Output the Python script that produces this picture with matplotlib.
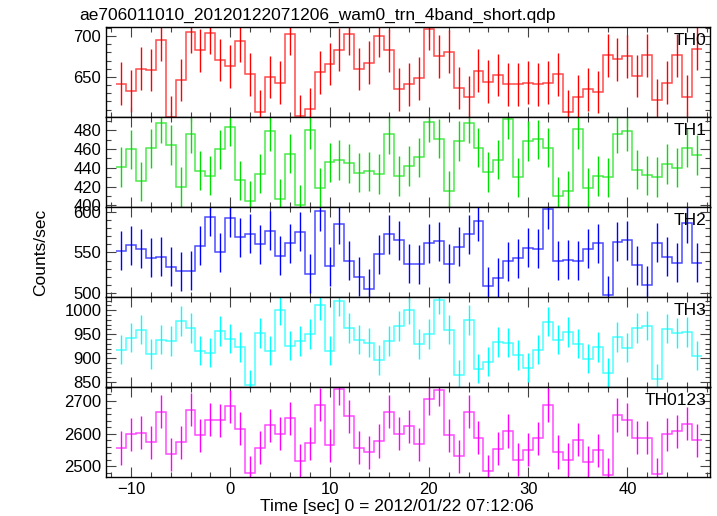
import numpy as np
import matplotlib
matplotlib.use('Agg')
import matplotlib.pyplot as plt
from matplotlib.ticker import MultipleLocator

plt.rcParams['font.family'] = ['Liberation Sans', 'DejaVu Sans']

# time bins (sec), 1 s wide
time = np.arange(-11, 48)

th0 = [641.7, 632.5, 660.0, 658.3, 695.0, 601.0, 646.0, 705.0, 682.5, 704.0,
       670.8, 662.9, 694.0, 653.0, 607.5, 650.0, 643.0, 702.5, 602.0, 611.0,
       655.4, 665.8, 683.3, 703.0, 659.6, 667.5, 700.0, 682.5, 634.6, 640.8,
       648.3, 708.3, 675.0, 680.8, 636.7, 625.4, 657.5, 644.2, 652.5, 640.8,
       640.8, 642.9, 640.8, 643.0, 653.0, 607.5, 626.0, 634.6, 631.3, 676.3,
       671.3, 675.0, 651.3, 676.3, 622.0, 643.0, 676.3, 626.0, 684.6]
th1 = [440.9, 459.4, 425.6, 460.5, 487.1, 464.0, 419.6, 476.4, 437.0, 431.7,
       459.4, 483.6, 426.4, 404.7, 433.8, 479.3, 407.2, 455.1, 400.8, 480.4,
       418.9, 445.6, 448.0, 444.5, 434.9, 436.0, 433.1, 475.4, 431.0, 441.6,
       450.9, 488.9, 471.1, 415.7, 468.6, 487.1, 461.5, 435.2, 448.7, 491.4,
       429.6, 468.6, 470.1, 461.5, 409.6, 415.7, 480.7, 418.9, 431.0, 429.6,
       476.4, 479.3, 438.1, 432.0, 430.3, 443.8, 440.2, 461.5, 453.3]
th2 = [551.9, 558.9, 554.8, 543.7, 544.5, 532.1, 526.8, 527.6, 558.0, 593.8,
       549.9, 593.0, 568.4, 573.3, 560.1, 576.5, 545.7, 561.0, 575.7, 523.9,
       600.9, 533.0, 584.8, 539.5, 519.8, 505.4, 547.8, 572.5, 565.1, 536.3,
       535.5, 561.0, 563.5, 536.3, 556.8, 572.5, 588.5, 508.3, 519.0, 538.8,
       542.5, 556.0, 554.8, 603.0, 539.5, 541.1, 539.5, 554.4, 561.0, 497.2,
       563.1, 565.1, 534.2, 509.5, 561.8, 544.5, 537.0, 585.7, 537.0]
th3 = [917.8, 942.9, 959.6, 908.0, 938.7, 935.8, 977.7, 963.0, 915.6, 911.5,
       956.7, 940.8, 923.3, 843.1, 952.6, 915.6, 1000.0, 926.2, 935.8, 949.8,
       1011.2, 915.6, 1019.5, 963.0, 938.7, 932.4, 895.4, 935.1, 966.5, 1001.4,
       928.9, 949.8, 1022.3, 959.6, 865.4, 979.1, 878.0, 892.7, 933.7, 932.4,
       905.9, 880.1, 917.8, 976.3, 938.7, 954.0, 930.3, 898.9, 923.3, 868.8,
       944.2, 921.9, 963.0, 968.0, 857.1, 961.6, 952.6, 954.6, 905.2]
th0123 = [2556.1, 2598.0, 2603.1, 2573.5, 2667.3, 2536.7, 2573.5, 2673.5, 2594.9, 2642.9,
          2640.8, 2683.7, 2615.3, 2479.6, 2557.1, 2625.5, 2600.0, 2646.9, 2517.3, 2570.4,
          2688.8, 2564.3, 2737.8, 2653.1, 2557.1, 2542.9, 2577.6, 2667.3, 2600.0, 2622.4,
          2567.3, 2707.1, 2734.7, 2594.9, 2530.6, 2667.3, 2587.8, 2484.7, 2554.1, 2608.2,
          2520.4, 2551.0, 2585.7, 2687.8, 2543.9, 2520.4, 2581.6, 2512.2, 2549.0, 2474.5,
          2657.1, 2642.9, 2587.8, 2587.8, 2475.5, 2598.0, 2607.1, 2630.6, 2579.6]

# 1-sigma error per band
errors = [26, 21, 24, 31, 51]
labels = ['TH0', 'TH1', 'TH2', 'TH3', 'TH0123']
series = [th0, th1, th2, th3, th0123]
colors = ['#ff0000', '#00e000', '#0000ff', '#00ffff', '#ff00ff']
ylims = [(601, 711), (398.2, 494), (495, 606), (839.6, 1027.7), (2467, 2743)]
major = [50, 20, 50, 50, 100]
minor = [10, 10, 10, 10, 20]

fig, axes = plt.subplots(5, 1, sharex=True, figsize=(7.17, 5.16), dpi=100)
fig.subplots_adjust(left=0.148, right=0.990, bottom=0.0756, top=0.9477, hspace=0)

edges = np.append(time - 0.5, time[-1] + 0.5)
for i, ax in enumerate(axes):
    vals = np.array(series[i])
    ax.stairs(vals, edges, baseline=None, color=colors[i], lw=1.1, alpha=0.7)
    ax.errorbar(time, vals, yerr=errors[i], fmt='none', ecolor=colors[i], elinewidth=1, capsize=0)
    ax.set_ylim(*ylims[i])
    ax.set_xlim(-12.5, 48.3)
    ax.yaxis.set_major_locator(MultipleLocator(major[i]))
    ax.yaxis.set_minor_locator(MultipleLocator(minor[i]))
    ax.xaxis.set_major_locator(MultipleLocator(10))
    ax.xaxis.set_minor_locator(MultipleLocator(2))
    ax.tick_params(which='both', direction='in', top=True, right=True, labelsize=12, colors='black')
    ax.tick_params(which='major', length=7, width=0.8, color='#444444')
    ax.tick_params(which='minor', length=3.5, width=0.8, color='#444444')
    for sp in ax.spines.values():
        sp.set_linewidth(1.0)
    ax.text(0.995, 0.93, labels[i], transform=ax.transAxes, ha='right', va='top', fontsize=12.5)

axes[0].set_title('ae706011010_20120122071206_wam0_trn_4band_short.qdp', loc='left',
                  fontsize=12.5, x=-0.045, pad=5)
fig.text(0.057, 0.51, 'Counts/sec', rotation=90, ha='center', va='center', fontsize=12.5)
fig.text(0.553, 0.018, 'Time [sec] 0 = 2012/01/22 07:12:06', ha='center', va='center', fontsize=12.5)

fig.savefig('out.png', dpi=100)
